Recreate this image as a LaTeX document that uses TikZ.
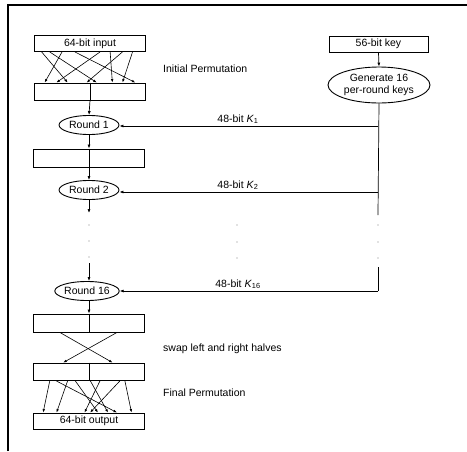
\documentclass[tikz,border=0pt]{standalone}
\usepackage{fontspec}
\setmainfont{Liberation Sans}
\usetikzlibrary{arrows.meta,shapes.geometric,calc}
\begin{document}
\begin{tikzpicture}[x=1pt,y=-1pt,
  every node/.style={font=\fontsize{10.5}{12}\selectfont},
  box/.style={draw,line width=0.9pt,rectangle,inner sep=0pt,minimum width=111pt,minimum height=17pt},
  oval/.style={draw,line width=0.9pt,ellipse,inner sep=0pt,minimum width=60pt,minimum height=19pt},
  arr/.style={line width=0.7pt,-{Latex[length=4pt,width=3pt]}},
  ln/.style={line width=0.7pt},
  perm/.style={line width=0.6pt,-{Latex[length=3.5pt,width=2.6pt]}},
  dot/.style={fill=gray,draw=none,circle,inner sep=0pt,minimum size=1.4pt},
  lbl/.style={anchor=west,inner sep=0pt}]
\useasboundingbox (0,0) rectangle (467,451);
\draw[line width=1.3pt] (8,451) -- (8,5) -- (467,5);
% left column
\node[box,minimum height=16pt] (in) at (90,43.5) {64-bit input};
\node[box] (ip) at (90,91.5) {};
\draw[ln] (ip.north) -- (ip.south);
\node[oval] (r1) at (89,125) {Round 1};
\node[box,minimum height=18pt] (mid) at (89,158) {};
\draw[ln] (mid.north) -- (mid.south);
\node[oval] (r2) at (89,190) {Round 2};
\coordinate (c2) at (89,213);
\node[dot] (d1) at (89,225) {};
\node[dot] (d2) at (89,241) {};
\node[dot] (d3) at (89,257) {};
\coordinate (c16) at (89,263);
\node[oval,minimum width=58pt] (r16) at (87,291) {Round 16};
\node[box,minimum height=18pt] (b3) at (89,323) {};
\draw[ln] (b3.north) -- (b3.south);
\node[box] (sw) at (89,371.5) {};
\draw[ln] (sw.north) -- (sw.south);
\node[box,minimum height=16pt] (out) at (89,421) {64-bit output};
\draw[arr] (ip.south) -- (r1.north);
\draw[arr] (r1.south) -- (mid.north);
\draw[arr] (mid.south) -- (r2.north);
\draw[arr] (r2.south) -- (c2);
\draw[arr] (c16) -- (r16.north -| c16);
\draw[arr] (r16.south -| b3.north) -- (b3.north);
% initial permutation
\foreach \s/\e in {0.068/0.30,0.14/0.56,0.25/0.095,0.365/0.905,0.59/0.20,0.68/0.70,0.79/0.47,0.88/0.79}
  \draw[perm] ($(in.south west)!\s!(in.south east)$) -- ($(ip.north west)!\e!(ip.north east)$);
% swap
\draw[perm] ($(b3.south west)!0.24!(b3.south east)$) -- ($(sw.north west)!0.71!(sw.north east)$);
\draw[perm] ($(b3.south west)!0.75!(b3.south east)$) -- ($(sw.north west)!0.27!(sw.north east)$);
% final permutation
\foreach \s/\e in {0.15/0.09,0.2/0.75,0.31/0.21,0.375/0.58,0.51/0.67,0.6/0.46,0.78/0.51,0.82/0.88}
  \draw[perm] ($(sw.south west)!\s!(sw.south east)$) -- ($(out.north west)!\e!(out.north east)$);
% right column
\node[box,minimum width=99pt,minimum height=16pt] (key) at (378.5,44) {56-bit key};
\node[oval,minimum width=102pt,minimum height=36pt,align=center] (gen) at (379,85) {Generate 16\\per-round keys};
\draw[arr] (key.south) -- (gen.north);
\coordinate (k1) at (378,126);
\coordinate (k2) at (378,192);
\coordinate (kb) at (378,215);
\node[dot] (e1) at (378,225) {};
\node[dot] (e2) at (378,242) {};
\node[dot] (e3) at (378,258) {};
\coordinate (kt) at (378,267);
\coordinate (k16) at (378,291);
\draw[ln] (gen.south) -- (kb);
\draw[ln] (kt) -- (k16);
\draw[arr] (k1) -- (r1.east |- k1);
\draw[arr] (k2) -- (r2.east |- k2);
\draw[arr] (k16) -- (r16.east |- k16);
\node[dot] (f1) at (237,225) {};
\node[dot] (f2) at (237,242) {};
\node[dot] (f3) at (237,258) {};
% labels
\node[anchor=south,inner sep=1pt] (l1) at (238,125) {48-bit \textit{K}\textsubscript{1}};
\node[anchor=south,inner sep=1pt] (l2) at (238,191) {48-bit \textit{K}\textsubscript{2}};
\node[anchor=south,inner sep=1pt] (l16) at (238,290) {48-bit \textit{K}\textsubscript{16}};
\node[lbl] (t1) at (163,69) {Initial Permutation};
\node[lbl] (t2) at (163,349) {swap left and right halves};
\node[lbl] (t3) at (163,393) {Final Permutation};
\end{tikzpicture}
\end{document}
